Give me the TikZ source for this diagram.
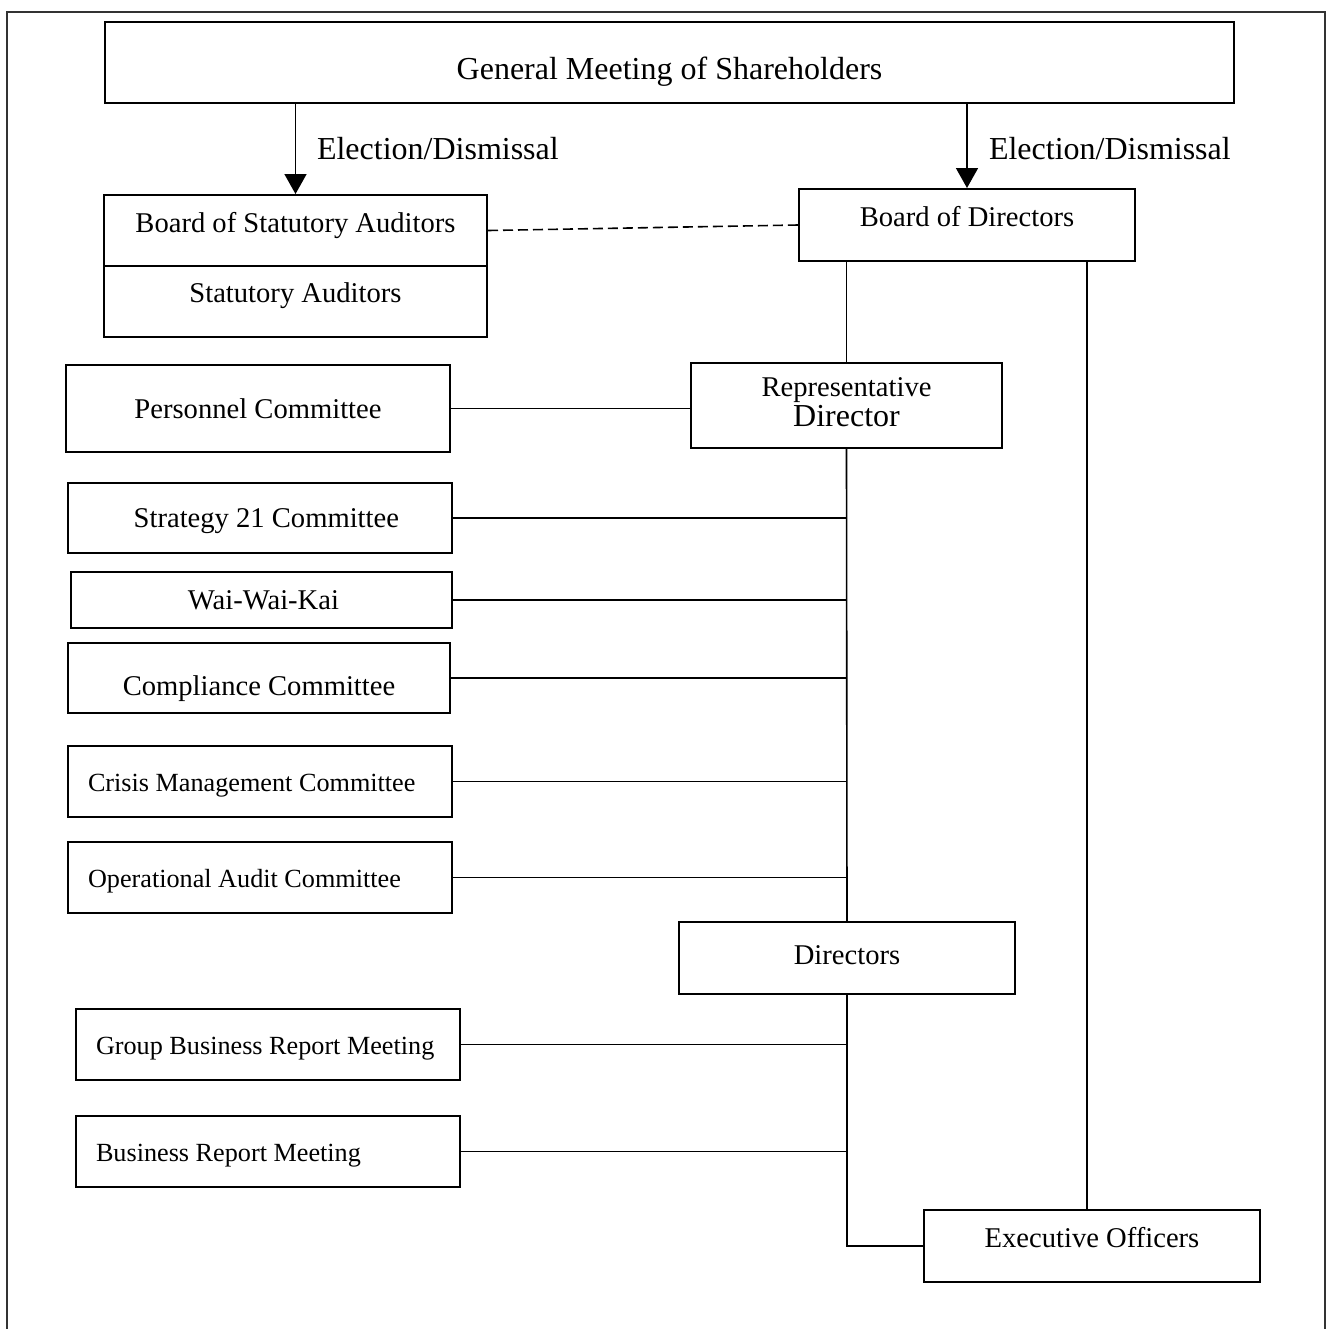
\documentclass[tikz,border=0pt]{standalone}
\usepackage{fontspec}
\setmainfont{Liberation Serif}
\usetikzlibrary{arrows.meta}
\usetikzlibrary{calc}

\begin{document}
\begin{tikzpicture}[x=0.5pt, y=-0.5pt,
    frame/.style = {draw, black, line width=1pt, inner sep=0pt},
    box/.style = {frame, text height=9.5pt, text depth=0pt},
    big/.style = {font=\fontsize{16}{19}\selectfont},
    mid/.style = {font=\fontsize{14.3}{17}\selectfont},
    small/.style = {font=\fontsize{13.1}{16}\selectfont},
    link/.style = {black, line width=0.8pt},
    elect/.style = {link, -{Triangle[width=11pt,length=10pt]}}]
    \useasboundingbox (0,0) rectangle (1327,1329);
    % outer frame, open at the bottom
    \draw[black!80, line width=0.8pt] (7,1329) -- (7,12) -- (1325,12) -- (1325,1329);

    % shareholders and auditors
    \node[box, big, minimum width=564.5pt, minimum height=40.5pt, text height=17.1pt] (gms) at (669.5,62.5) {General Meeting of Shareholders};
    \node[box, mid, minimum width=191.5pt, minimum height=35.5pt, text depth=7.5pt] (bsa) at (295.5,230.5) {Board of Statutory Auditors};
    \node[box, mid, minimum width=191.5pt, minimum height=35.5pt, text depth=8.5pt] (sa) at (295.5,301.5) {Statutory Auditors};
    \node[box, mid, minimum width=168pt, minimum height=36pt, text depth=8pt] (bod) at (967,225) {Board of Directors};
    \node[box, big, text height=10.6pt, draw=none, anchor=west] (electL) at (316,149) {Election/Dismissal};
    \node[box, big, text height=10.6pt, draw=none, anchor=west] (electR) at (988,149) {Election/Dismissal};

    % directors
    \node[frame, font=\fontsize{14.3}{15}\selectfont, align=center, minimum width=155.5pt, minimum height=42.5pt, text depth=3pt] (rep) at (846.5,405.5)
        {Representative\\{\fontsize{16}{15}\selectfont Director}};
    \node[box, mid, minimum width=168pt, minimum height=36pt, text depth=3pt] (dir) at (847,958) {Directors};
    \node[box, mid, minimum width=168pt, minimum height=36pt, text depth=8pt] (eo) at (1092,1246) {Executive Officers};

    % committees
    \node[box, mid, minimum width=192pt, minimum height=43.5pt] (pers) at (258,408.5) {Personnel Committee};
    \node[box, mid, minimum width=192pt, minimum height=35pt, text width=139pt, align=flush right] (strat) at (260,518) {\mbox{Strategy 21 Committee}};
    \node[box, mid, minimum width=190.5pt, minimum height=28pt, text width=77.5pt, align=flush right] (wai) at (261.5,600) {\mbox{Wai-Wai-Kai}};
    \node[box, mid, minimum width=191pt, minimum height=35pt, text height=17.5pt] (comp) at (259,678) {Compliance Committee};
    \node[box, small, minimum width=192pt, minimum height=35.5pt, text width=172pt, align=flush left] (crisis) at (260,781.5) {\mbox{Crisis Management Committee}};
    \node[box, small, minimum width=192pt, minimum height=35.5pt, text width=172pt, align=flush left] (oper) at (260,877.5) {\mbox{Operational Audit Committee}};

    % report meetings
    \node[box, small, minimum width=192pt, minimum height=35.5pt, text width=172pt, align=flush left] (grp) at (268,1044.5) {\mbox{Group Business Report Meeting}};
    \node[box, small, minimum width=192pt, minimum height=35.5pt, text width=172pt, align=flush left] (brm) at (268,1151.5) {\mbox{Business Report Meeting}};

    % election arrows
    \draw[elect] (gms.south -| bsa.north) -- (bsa.north);
    \draw[elect] (gms.south -| bod.north) -- (bod.north);
    \draw[link, dashed, dash pattern=on 5pt off 2.5pt] (bsa.east) -- (bod.west);

    % reporting lines
    \draw[link] (bod.south -| rep.north) -- (rep.north);
    \draw[link] ([xshift=-2.5pt]bod.south -| eo.north) -- ([xshift=-2.5pt]eo.north);
    \draw[link] (pers.east) -- (pers.east -| rep.west);
    \draw[link] (rep.south) -- (dir.north);
    \foreach \c in {strat, wai, comp, crisis, oper}
        \draw[link] (\c.east) -- (\c.east -| rep.south);
    \foreach \c in {grp, brm}
        \draw[link] (\c.east) -- (\c.east -| dir.south);
    \draw[link] (dir.south) |- (eo.west);
\end{tikzpicture}
\end{document}
